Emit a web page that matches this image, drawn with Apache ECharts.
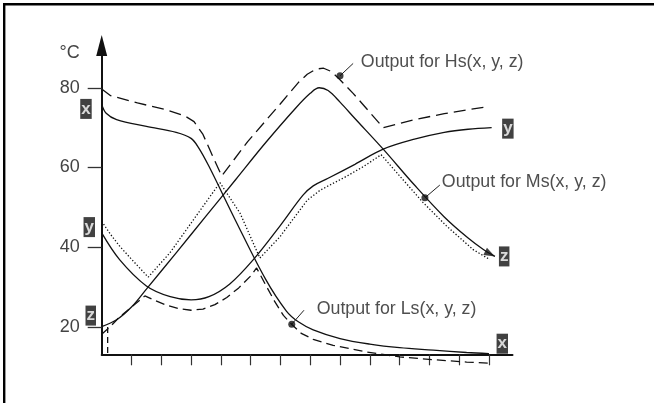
<!DOCTYPE html>
<html><head><meta charset="utf-8">
<script src="https://cdn.jsdelivr.net/npm/echarts@6/dist/echarts.min.js"></script>
<style>html,body{margin:0;padding:0;background:#fff}#c{width:654px;height:403px}</style>
</head><body><div id="c"></div>
<script>
// ---------- data ----------
const xTicks = [1,2,3,4,5,6,7,8,9,10,11,12,13];
const yTicks = [20,40,60,80];
const yUnit = '°C';
const yUnitAt = 88.7;

// input x (solid)
const xT = [0,0.15,0.5,1.5,2.5,3.0,3.25,3.6,4.5,5.5,6.2,6.6,7.1,8.0,9.0,10.0,11.13,12.25,13.0];
const xV = [75.8,73.6,72.0,70.3,68.8,67.3,65.0,60.3,46.6,32.0,24.0,21.3,19.3,17.1,15.7,14.8,14.2,13.6,13.3];
// input y (solid)
const yT = [0,0.6,1.5,2.3,3.0,3.6,4.3,5.09,6.0,6.75,7.1,7.6,8.5,9.45,10.5,11.5,12.3,13.09];
const yV = [43.6,36.9,30.3,27.6,26.8,27.6,30.8,36.9,45.5,53.0,55.4,57.3,60.8,64.6,67.1,68.8,69.6,70.0];
// input z (solid, arrow at end)
const zT = [0,0.5,1.0,1.5,2.5,3.5,4.5,5.5,6.5,7.0,7.3,7.6,8.0,8.5,9.45,10.5,11.5,12.3,12.8,13.2];
const zV = [20.1,21.8,25.0,29.5,38.6,47.8,57.0,66.2,74.8,78.6,80.0,79.3,76.4,72.3,64.6,55.6,47.6,42.3,39.5,37.7];
// output Hs (dashed)
const hT = [0,0.3,1.2,2.1,2.8,3.1,3.4,3.75,4.03,4.9,6.0,6.6,6.9,7.2,7.45,7.7,8.0,8.44,9.45,10.5,11.5,12.3,13.0];
const hV = [79.7,78.0,76.2,74.6,72.9,71.5,68.3,62.4,57.9,66.5,76.0,81.3,83.4,84.7,84.9,84.1,82.0,78.6,70.0,72.0,73.5,74.5,75.3];
// output Ms (dotted)
const mT = [0,0.3,0.61,1.0,1.3,1.56,2.29,3.3,3.97,4.64,5.31,5.98,6.9,7.33,8.22,8.8,9.38,10.0,10.79,11.58,12.47,13.03];
const mV = [46.5,43.2,40.2,37.0,34.6,32.5,38.6,49.2,56.2,48.6,37.3,42.6,51.8,54.3,57.8,60.3,63.2,57.9,51.2,45.3,39.4,36.9];
// output Ls (dashed)
const lT = [0,0.3,0.61,1.0,1.45,1.8,2.2,2.6,3.0,3.4,3.8,4.2,4.6,5.0,5.2,5.5,5.8,6.1,6.4,6.7,7.1,7.77,8.9,10.0,11.13,12.25,13.03];
const lV = [18.2,20.2,22.6,25.0,27.8,26.6,25.4,24.6,24.2,24.5,25.6,27.4,29.8,32.8,34.8,30.6,26.5,22.9,20.5,18.4,16.9,15.4,13.7,12.5,11.8,11.2,10.9];
// short dashed drop line at the start of Ls
const dropT = [0.2,0.2];
const dropV = [20.0,13.15];

// callouts
const calloutText = ['Output for Hs(x, y, z)','Output for Ms(x, y, z)','Output for Ls(x, y, z)'];
const calloutDotT = [8.0,10.85,6.38];
const calloutDotV = [83.0,52.4,20.7];
const calloutEndT = [8.44,11.35,6.79];
const calloutEndV = [86.1,55.6,24.2];

// ---------- chart ----------
const zip = (a,b) => a.map((t,i)=>[t,b[i]]);
const INK = '#111';
function curve(t, v, type, z) {
  return {type:'line', data:zip(t,v), showSymbol:false, symbol:'none', smooth:false, clip:false,
    silent:true, z:z||2, lineStyle:{color:INK, width:1.3, type:type, cap:'butt'}};
}
function smoothCurve(t, v) {
  const s = curve(t, v, 'solid', 3); s.smooth = 0.35; return s;
}
const tagStyle = {show:true, color:'#fff', backgroundColor:'#111', fontFamily:'Liberation Sans, Arial, sans-serif',
  fontWeight:'bold', fontSize:17, lineHeight:19, padding:[0,1,1,1]};
function tag(pt, text, pos, dist, off) {
  return {type:'scatter', data:[pt], symbolSize:0, silent:true, z:5,
    label:Object.assign({}, tagStyle, {position:pos, distance:dist, offset:off, formatter:text})};
}
const txtFont = {fontFamily:'Liberation Sans, Arial, sans-serif', color:'#222', fontSize:17.8};

const series = [
  smoothCurve(xT, xV),
  smoothCurve(yT, yV),
  smoothCurve(zT, zV),
  curve(hT, hV, [12,6]),
  curve(mT, mV, [1.3,2]),
  curve(lT, lV, [9,5]),
  curve(dropT, dropV, [6,4]),
  // arrowhead on z
  {type:'scatter', data:[[zT[zT.length-1], zV[zV.length-1]]], symbol:'triangle', symbolSize:[8,11],
   symbolRotate:-117, symbolOffset:[-4.9,-2.5], itemStyle:{color:INK}, silent:true, z:4},
  tag([xT[0], xV[0]], 'x', 'left', 10, [0,4.4]),
  tag([yT[0], yV[0]], 'y', 'left', 6.7, [0,-5.8]),
  tag([zT[0], zV[0]], 'z', 'left', 5.7, [0,-11]),
  tag([xT[xT.length-1], xV[xV.length-1]], 'x', 'right', 7.6, [0,-10]),
  tag([yT[yT.length-1], yV[yV.length-1]], 'y', 'right', 10.5, [0,1]),
  tag([zT[zT.length-1], zV[zV.length-1]], 'z', 'right', 4, [0,0]),
  // callout dots
  {type:'scatter', data:zip(calloutDotT, calloutDotV), symbolSize:7, itemStyle:{color:INK}, silent:true, z:6}
];
const callOff = [[7.7,[0,-1.3]],[2,[0,-3]],[12.7,[0,-1]]];
calloutText.forEach((txt,i)=>{
  series.push({type:'line', data:[[calloutDotT[i],calloutDotV[i]],[calloutEndT[i],calloutEndV[i]]],
    showSymbol:false, symbol:'none', silent:true, z:6, lineStyle:{color:'#222', width:1}});
  series.push({type:'scatter', data:[[calloutEndT[i],calloutEndV[i]]], symbolSize:0, silent:true, z:6,
    label:Object.assign({show:true, position:'right', distance:callOff[i][0], offset:callOff[i][1], formatter:txt}, txtFont)});
});

const chart = echarts.init(document.getElementById('c'), null, {renderer:'canvas'});
chart.setOption({
  animation:false,
  backgroundColor:'#fff',
  grid:{left:101.7, right:141.5, top:45.5, bottom:48.7, containLabel:false, outerBoundsMode:'none'},
  xAxis:{type:'value', min:0, max:13.79,
    axisLine:{show:true, lineStyle:{color:INK, width:2}},
    axisTick:{show:true, customValues:xTicks, length:11, inside:false, lineStyle:{color:'#333', width:1.2}},
    axisLabel:{show:false}, splitLine:{show:false}},
  yAxis:{type:'value', min:13.15, max:90.6,
    axisLine:{show:true, symbol:['none','triangle'], symbolSize:[11,21], lineStyle:{color:INK, width:2}},
    axisTick:{show:true, customValues:yTicks, length:14, lineStyle:{color:'#333', width:1.3}},
    axisLabel:{show:true, customValues:yTicks.concat([yUnitAt]), margin:22, fontSize:18, color:'#444',
      fontFamily:'Liberation Sans, Arial, sans-serif',
      formatter:v=> (Math.abs(v-yUnitAt)<0.01 ? yUnit : String(v))},
    splitLine:{show:false}},
  graphic:[
    {type:'rect', shape:{x:3, y:3, width:651, height:2.4}, style:{fill:'#000'}},
    {type:'rect', shape:{x:3, y:3, width:2.4, height:400}, style:{fill:'#000'}}
  ],
  series:series
});
</script></body></html>
